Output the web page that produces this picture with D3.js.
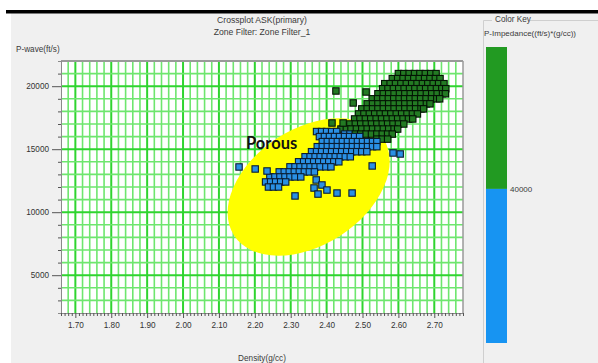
<!DOCTYPE html>
<html>
<head>
<meta charset="utf-8">
<script src="https://cdn.jsdelivr.net/npm/d3@7"></script>
<style>
  html, body { margin: 0; padding: 0; background: #fff; }
  svg { display: block; font-family: "Liberation Sans", Arial, sans-serif; }
</style>
</head>
<body>
<svg id="chart" width="598" height="363"></svg>
<script>
// ---- Text ----
const chartTitle = "Crossplot ASK(primary)";
const zoneFilter = "Zone Filter: Zone Filter_1";
const xLabel = "Density(g/cc)";
const yLabel = "P-wave(ft/s)";
const keyTitle = "Color Key";
const keyProperty = "P-Impedance((ft/s)*(g/cc))";
const porousLabel = "Porous";

// ---- Axes ----
const densityDomain = [1.66, 2.78];
const velocityDomain = [2000, 22000];
const densityTicks = [1.70, 1.80, 1.90, 2.00, 2.10, 2.20, 2.30, 2.40, 2.50, 2.60, 2.70];
const velocityTicks = [5000, 10000, 15000, 20000];

// ---- Colour key (P-impedance classes) ----
const impedanceBreak = 40000;
const keyRange = [24800, 54000];
const keyLabels = [40000];

// ---- Main trend: velocity of each row and the densities sampled on it ----
const trendVelocity = [
  21000, 20600, 20200, 19800, 19400, 19000, 18600, 18200, 17800, 17400,
  17000, 16600, 16200, 15800,
  16400, 16000, 15600, 15200, 14800, 14400, 14000, 13600, 13200, 12800, 12400, 12000
];
const trendDensity = [
  [2.600, 2.615, 2.630, 2.645, 2.660, 2.675, 2.690, 2.705],
  [2.583, 2.598, 2.613, 2.628, 2.643, 2.658, 2.673, 2.688, 2.703, 2.716],
  [2.562, 2.577, 2.592, 2.607, 2.622, 2.637, 2.652, 2.667, 2.682, 2.697, 2.712, 2.727],
  [2.556, 2.571, 2.586, 2.601, 2.616, 2.631, 2.646, 2.661, 2.676, 2.691, 2.706, 2.721, 2.732],
  [2.543, 2.558, 2.573, 2.588, 2.603, 2.618, 2.633, 2.648, 2.663, 2.678, 2.693, 2.708, 2.723, 2.731],
  [2.527, 2.542, 2.557, 2.572, 2.587, 2.602, 2.617, 2.632, 2.647, 2.662, 2.677, 2.692, 2.707, 2.715],
  [2.513, 2.528, 2.543, 2.558, 2.573, 2.588, 2.603, 2.618, 2.633, 2.648, 2.663, 2.678, 2.688],
  [2.498, 2.513, 2.528, 2.543, 2.558, 2.573, 2.588, 2.603, 2.618, 2.633, 2.648, 2.663, 2.670],
  [2.489, 2.504, 2.519, 2.534, 2.549, 2.564, 2.579, 2.594, 2.609, 2.624, 2.639, 2.653],
  [2.478, 2.493, 2.508, 2.523, 2.538, 2.553, 2.568, 2.583, 2.598, 2.613, 2.628, 2.640],
  [2.465, 2.480, 2.495, 2.510, 2.525, 2.540, 2.555, 2.570, 2.585, 2.600, 2.615],
  [2.440, 2.455, 2.468, 2.483, 2.498, 2.513, 2.528, 2.543, 2.558, 2.573, 2.588, 2.598],
  [2.450, 2.465, 2.480, 2.495, 2.510, 2.525, 2.540, 2.555, 2.570, 2.583],
  [2.540, 2.555, 2.570],
  [2.372, 2.386, 2.400, 2.414, 2.428],
  [2.380, 2.394, 2.408, 2.422, 2.436, 2.450, 2.464, 2.478, 2.492],
  [2.388, 2.402, 2.416, 2.430, 2.444, 2.458, 2.472, 2.486, 2.500, 2.514, 2.528, 2.540],
  [2.374, 2.388, 2.402, 2.416, 2.430, 2.444, 2.458, 2.472, 2.486, 2.500, 2.514, 2.528, 2.540],
  [2.358, 2.372, 2.386, 2.400, 2.414, 2.428, 2.442, 2.456, 2.470, 2.484, 2.498, 2.512],
  [2.340, 2.354, 2.368, 2.382, 2.396, 2.410, 2.424, 2.438, 2.452, 2.466],
  [2.322, 2.336, 2.350, 2.364, 2.378, 2.392, 2.406, 2.420, 2.434],
  [2.298, 2.312, 2.326, 2.340, 2.354, 2.368, 2.382, 2.398, 2.412],
  [2.268, 2.282, 2.296, 2.310, 2.324, 2.338, 2.352, 2.366],
  [2.242, 2.256, 2.270, 2.284, 2.298, 2.312, 2.328],
  [2.230, 2.244, 2.258, 2.272, 2.286],
  [2.238, 2.252, 2.266]
];

// ---- Isolated samples off the main trend ----
const outlierDensity = [
  2.156, 2.201, 2.234, 2.312, 2.371, 2.387, 2.365, 2.401, 2.376, 2.429, 2.471,
  2.527, 2.585, 2.605,
  2.426, 2.510, 2.474, 2.415, 2.446
];
const outlierVelocity = [
  13590, 13430, 13270, 11290, 12560, 12160, 11920, 11760, 11440, 11520, 11520,
  13670, 14700, 14620,
  19620, 19540, 18670, 17080, 17080
];

// ---- Porous zone annotation ----
const porousCentre = { density: 2.350, velocity: 12000 };

// ======================================================================
const svg = d3.select("#chart");
const W = 598, H = 363;
const plot = { left: 61, right: 463, top: 61, bottom: 313 };

// page frame
svg.append("rect").attr("width", W).attr("height", H).attr("fill", "#ffffff");
svg.append("rect").attr("x", 11).attr("y", 13).attr("width", W - 11).attr("height", H - 13).attr("fill", "#f0f0f0");
svg.append("rect").attr("x", 6).attr("y", 10).attr("width", W - 6).attr("height", 3.5).attr("fill", "#000");

const x = d3.scaleLinear().domain(densityDomain).range([plot.left, plot.right]);
const y = d3.scaleLinear().domain(velocityDomain).range([plot.bottom, plot.top]);

// titles
const titleX = 262;
svg.append("text").attr("x", titleX).attr("y", 23).attr("text-anchor", "middle")
  .attr("font-size", 8.6).attr("fill", "#3a3a3a").text(chartTitle);
svg.append("text").attr("x", titleX).attr("y", 35).attr("text-anchor", "middle")
  .attr("font-size", 8.6).attr("fill", "#3a3a3a").text(zoneFilter);
svg.append("text").attr("x", 16).attr("y", 52)
  .attr("font-size", 8.2).attr("fill", "#3a3a3a").text(yLabel);
svg.append("text").attr("x", 262).attr("y", 361).attr("text-anchor", "middle")
  .attr("font-size", 8.2).attr("fill", "#3a3a3a").text(xLabel);

// plot background
svg.append("rect").attr("x", plot.left).attr("y", plot.top)
  .attr("width", plot.right - plot.left).attr("height", plot.bottom - plot.top)
  .attr("fill", "#ffffff");

// grid: density every 0.02, velocity every 1000
const grid = svg.append("g");
const gridDensity = d3.range(Math.ceil(densityDomain[0] * 50), Math.floor(densityDomain[1] * 50) + 1).map(i => i / 50);
const gridVelocity = d3.range(velocityDomain[0] / 1000, velocityDomain[1] / 1000 + 1).map(i => i * 1000);
const isMajorD = d => Math.abs(d * 10 - Math.round(d * 10)) < 1e-6;
const isMajorV = v => v % 5000 === 0;

grid.selectAll("line.v").data(gridDensity.filter(d => x(d) > plot.left + 1 && x(d) < plot.right - 1))
  .join("line")
  .attr("x1", d => x(d)).attr("x2", d => x(d))
  .attr("y1", plot.top).attr("y2", plot.bottom)
  .attr("stroke", d => isMajorD(d) ? "#2fd42f" : "#6ee66e")
  .attr("stroke-width", d => isMajorD(d) ? 2 : 1.6);
grid.selectAll("line.h").data(gridVelocity.filter(v => y(v) > plot.top + 1 && y(v) < plot.bottom - 1))
  .join("line")
  .attr("y1", d => y(d)).attr("y2", d => y(d))
  .attr("x1", plot.left).attr("x2", plot.right)
  .attr("stroke", d => isMajorV(d) ? "#2fd42f" : "#6ee66e")
  .attr("stroke-width", d => isMajorV(d) ? 2 : 1.6);

// frame of the plot
svg.append("line").attr("x1", plot.left).attr("x2", plot.right).attr("y1", plot.top).attr("y2", plot.top)
  .attr("stroke", "#9a9a9a").attr("stroke-width", 2);
svg.append("line").attr("x1", plot.right).attr("x2", plot.right).attr("y1", plot.top).attr("y2", plot.bottom)
  .attr("stroke", "#9a9a9a").attr("stroke-width", 1.5);

// porous zone
const pc = [x(porousCentre.density), y(porousCentre.velocity)];
svg.append("ellipse")
  .attr("cx", 0).attr("cy", 0).attr("rx", 89).attr("ry", 58)
  .attr("transform", `translate(${pc[0]},${pc[1]}) rotate(-33)`)
  .attr("fill", "#ffff00");

svg.append("text").attr("x", 246).attr("y", 149)
  .attr("font-family", "Lato, 'Open Sans', sans-serif").attr("font-weight", "bold")
  .attr("font-size", 16.5).attr("fill", "#111").text(porousLabel);

// samples
const samples = [];
trendVelocity.forEach((v, i) => trendDensity[i].forEach(d => samples.push({ d, v })));
outlierDensity.forEach((d, i) => samples.push({ d, v: outlierVelocity[i] }));
samples.forEach(s => s.imp = s.d * s.v);

const markSize = 6.4;
svg.append("g").selectAll("rect").data(samples).join("rect")
  .attr("x", s => x(s.d) - markSize / 2)
  .attr("y", s => y(s.v) - markSize / 2)
  .attr("width", markSize).attr("height", markSize)
  .attr("fill", s => s.imp >= impedanceBreak ? "#237a23" : "#2a90e4")
  .attr("stroke", s => s.imp >= impedanceBreak ? "#041404" : "#0a1c30")
  .attr("stroke-width", 1.1);

// axes
const axisStyle = g => {
  g.select(".domain").attr("stroke", "#8a8a8a");
  g.selectAll(".tick line").attr("stroke", "#555");
  g.selectAll("text").attr("fill", "#333").attr("font-size", 8.2)
    .attr("font-family", "'Liberation Sans', Arial, sans-serif");
};
const minorV = gridVelocity.filter(v => !velocityTicks.includes(v) && v > velocityDomain[0] && v < velocityDomain[1]);
svg.append("g").attr("transform", `translate(${plot.left},0)`)
  .call(d3.axisLeft(y).tickValues(minorV).tickSize(3).tickFormat(""))
  .call(axisStyle);
svg.append("g").attr("transform", `translate(${plot.left},0)`)
  .call(d3.axisLeft(y).tickValues(velocityTicks).tickSize(9).tickPadding(3).tickFormat(d3.format("d")))
  .call(axisStyle).call(g => g.select(".domain").remove());

const minorD = d3.range(Math.ceil(densityDomain[0] * 100), Math.floor(densityDomain[1] * 100) + 1)
  .map(i => i / 100).filter(d => !isMajorD(d));
svg.append("g").attr("transform", `translate(0,${plot.bottom})`)
  .call(d3.axisBottom(x).tickValues(minorD).tickSize(3).tickFormat(""))
  .call(axisStyle);
svg.append("g").attr("transform", `translate(0,${plot.bottom})`)
  .call(d3.axisBottom(x).tickValues(densityTicks).tickSize(5).tickPadding(4).tickFormat(d3.format(".2f")))
  .call(axisStyle).call(g => g.select(".domain").remove());

// colour key
const key = svg.append("g");
key.append("path")
  .attr("d", `M492,20.5 H483.5 V${H} M530,20.5 H${W}`)
  .attr("fill", "none").attr("stroke", "#cfcfcf");
key.append("text").attr("x", 495).attr("y", 22).attr("font-size", 8.2).attr("fill", "#3a3a3a").text(keyTitle);
key.append("text").attr("x", 484).attr("y", 36).attr("font-size", 8).attr("fill", "#3a3a3a").text(keyProperty);

const ky = d3.scaleLinear().domain([keyRange[1], keyRange[0]]).range([47, 343]);
const keyBands = [
  { lo: impedanceBreak, hi: keyRange[1], color: "#229a22" },
  { lo: keyRange[0], hi: impedanceBreak, color: "#1794f2" }
];
key.selectAll("rect.band").data(keyBands).join("rect")
  .attr("x", 486).attr("width", 21)
  .attr("y", b => ky(b.hi)).attr("height", b => ky(b.lo) - ky(b.hi))
  .attr("fill", b => b.color);
key.selectAll("text.lab").data(keyLabels).join("text")
  .attr("x", 510).attr("y", d => ky(d) + 3).attr("font-size", 8).attr("fill", "#3a3a3a")
  .text(d => d);
</script>
</body>
</html>
